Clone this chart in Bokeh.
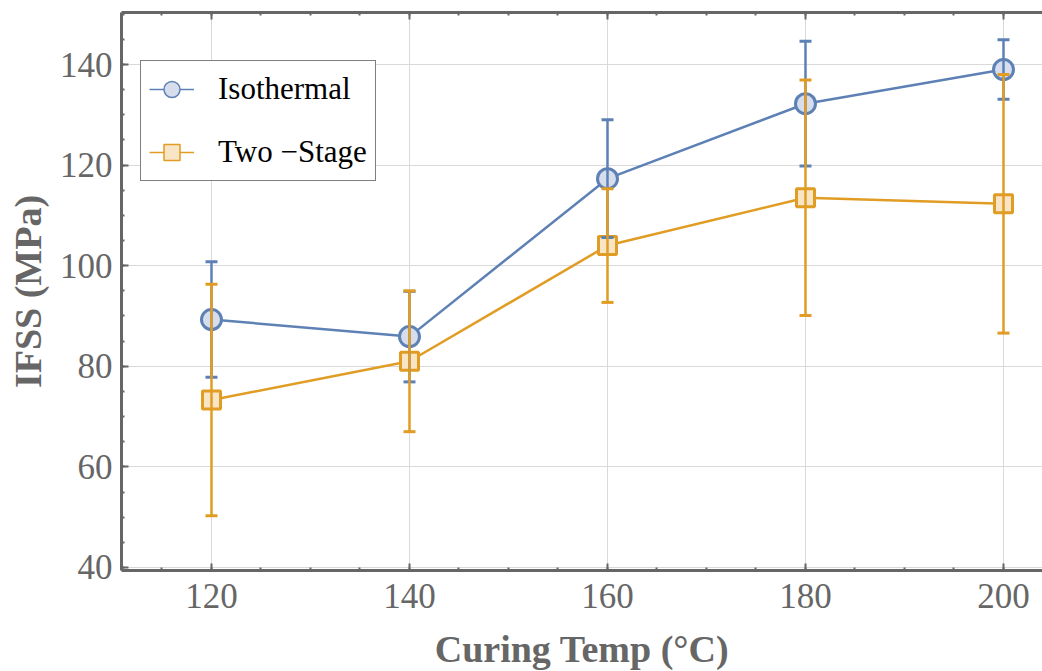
from bokeh.plotting import figure
from bokeh.models import (ColumnDataSource, Whisker, TeeHead, LinearAxis, Legend, LegendItem,
                          FixedTicker, CustomJSTickFormatter, Range1d)
from bokeh.embed import file_html
from bokeh.resources import INLINE

temps = [120, 140, 160, 180, 200]
iso_mean = [89.3, 85.9, 117.3, 132.2, 139.0]
iso_err = [11.5, 9.0, 11.7, 12.4, 5.9]
two_mean = [73.3, 81.0, 104.0, 113.5, 112.3]
two_err = [23.0, 14.0, 11.3, 23.4, 25.7]

x_ticks = [120, 140, 160, 180, 200]
y_ticks = [40, 60, 80, 100, 120, 140]

BLUE = "#5E81B5"
BLUE_FILL = "#D6DDEC"
ORANGE = "#E19C24"
ORANGE_FILL = "#F8E5C6"
FRAME = "#666666"
FONT = "Liberation Serif"

p = figure(frame_width=921, frame_height=558, output_backend="svg", toolbar_location=None,
           x_range=Range1d(110.91, 203.94), y_range=Range1d(39.4, 150.34),
           min_border_left=121, min_border_right=0, min_border_top=12, min_border_bottom=101)
p.outline_line_color = None
p.background_fill_color = "white"

# grid
p.xgrid.ticker = FixedTicker(ticks=x_ticks)
p.ygrid.ticker = FixedTicker(ticks=y_ticks)
for g in (p.xgrid, p.ygrid):
    g.grid_line_color = "#D9D9D9"
    g.grid_line_width = 1

def style_axis(ax):
    ax.axis_line_color = FRAME
    ax.axis_line_width = 3
    ax.major_tick_line_color = FRAME
    ax.minor_tick_line_color = FRAME
    ax.major_tick_line_width = 2
    ax.minor_tick_line_width = 2
    ax.major_tick_in = 7
    ax.major_tick_out = 0
    ax.minor_tick_in = 3
    ax.minor_tick_out = 0
    ax.major_label_text_font = FONT
    ax.major_label_text_color = FRAME
    ax.major_label_text_font_size = "35px"
    ax.axis_label_text_font = FONT
    ax.axis_label_text_font_style = "bold"
    ax.axis_label_text_color = FRAME
    ax.axis_label_text_font_size = "38px"

xa = p.xaxis[0]
ya = p.yaxis[0]
style_axis(xa)
style_axis(ya)
xa.ticker = FixedTicker(ticks=x_ticks, minor_ticks=list(range(110, 206, 5)))
ya.ticker = FixedTicker(ticks=y_ticks, minor_ticks=list(range(35, 155, 5)))
xa.axis_label = "Curing Temp (°C)"
ya.axis_label = "IFSS (MPa)"
xa.major_label_standoff = 13
ya.major_label_standoff = 9
xa.axis_label_standoff = 17
ya.axis_label_standoff = 8

top = LinearAxis(ticker=FixedTicker(ticks=x_ticks, minor_ticks=list(range(110, 206, 5))),
                 formatter=CustomJSTickFormatter(code="return ''"))
style_axis(top)
top.major_label_text_font_size = "1px"
top.major_label_standoff = 0
p.add_layout(top, "above")

# series
src_iso = ColumnDataSource(dict(x=temps, y=iso_mean,
                                upper=[m + e for m, e in zip(iso_mean, iso_err)],
                                lower=[m - e for m, e in zip(iso_mean, iso_err)]))
src_two = ColumnDataSource(dict(x=temps, y=two_mean,
                                upper=[m + e for m, e in zip(two_mean, two_err)],
                                lower=[m - e for m, e in zip(two_mean, two_err)]))

def add_err(src, color):
    w = Whisker(base="x", upper="upper", lower="lower", source=src,
                line_color=color, line_width=2.5,
                upper_head=TeeHead(size=12, line_color=color, line_width=3),
                lower_head=TeeHead(size=12, line_color=color, line_width=3),
                level="glyph")
    p.add_layout(w)

add_err(src_iso, BLUE)
p.line("x", "y", source=src_iso, line_color=BLUE, line_width=2.5)
add_err(src_two, ORANGE)
p.line("x", "y", source=src_two, line_color=ORANGE, line_width=2.5)
p.scatter("x", "y", source=src_iso, marker="circle", size=20,
          fill_color=BLUE_FILL, line_color=BLUE, line_width=3)
p.scatter("x", "y", source=src_two, marker="square", size=18,
          fill_color=ORANGE_FILL, line_color=ORANGE, line_width=3)

# hidden renderers that only give the legend its thinner styling
lg_l_iso = p.line("x", "y", source=src_iso, line_color=BLUE, line_width=1.5, visible=False)
lg_s_iso = p.scatter("x", "y", source=src_iso, marker="circle", size=16,
                     fill_color=BLUE_FILL, line_color=BLUE, line_width=1.5, visible=False)
lg_l_two = p.line("x", "y", source=src_two, line_color=ORANGE, line_width=1.5, visible=False)
lg_s_two = p.scatter("x", "y", source=src_two, marker="square", size=16,
                     fill_color=ORANGE_FILL, line_color=ORANGE, line_width=1.5, visible=False)

legend = Legend(items=[LegendItem(label="Isothermal", renderers=[lg_l_iso, lg_s_iso]),
                       LegendItem(label="Two −Stage", renderers=[lg_l_two, lg_s_two])],
                location=(19, 389))
legend.border_line_color = "black"
legend.border_line_width = 1
legend.background_fill_color = "white"
legend.background_fill_alpha = 1
legend.inactive_fill_alpha = 0
legend.label_text_font = FONT
legend.label_text_font_size = "31px"
legend.label_text_color = "black"
legend.padding = 8
legend.spacing = 23
legend.glyph_height = 40
legend.label_height = 40
legend.glyph_width = 45
legend.label_standoff = 24
legend.margin = 0
p.add_layout(legend)

open("out.html", "w").write(file_html(p, INLINE))
